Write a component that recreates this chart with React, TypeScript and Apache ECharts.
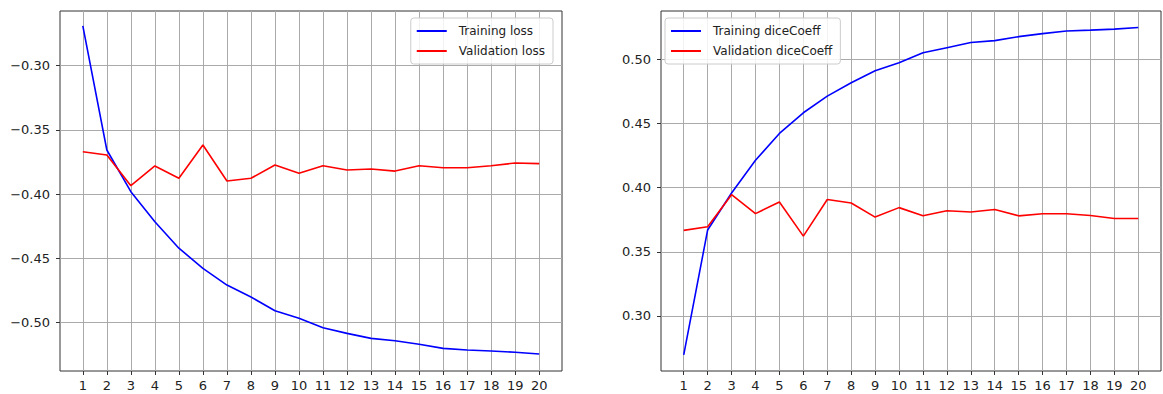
import React, { useEffect, useRef } from "react";
import * as echarts from "echarts";

const epochs = [1, 2, 3, 4, 5, 6, 7, 8, 9, 10, 11, 12, 13, 14, 15, 16, 17, 18, 19, 20];
const trainLoss = [-0.269, -0.3656, -0.398, -0.4214, -0.442, -0.4577, -0.4707, -0.48, -0.4907, -0.4966, -0.5039, -0.5083, -0.5122, -0.514, -0.5168, -0.52, -0.5213, -0.522, -0.523, -0.5244];
const valLoss = [-0.3669, -0.3695, -0.3934, -0.378, -0.3876, -0.3617, -0.3897, -0.3876, -0.3773, -0.3837, -0.3778, -0.3812, -0.3804, -0.382, -0.3778, -0.3794, -0.3794, -0.3778, -0.3757, -0.3762];
const trainDice = [0.2696, 0.367, 0.3958, 0.4213, 0.4422, 0.4583, 0.4713, 0.4817, 0.4911, 0.4973, 0.505, 0.509, 0.513, 0.5145, 0.5176, 0.52, 0.522, 0.5227, 0.5235, 0.5248];
const valDice = [0.3667, 0.3695, 0.3945, 0.3797, 0.3888, 0.3622, 0.3907, 0.388, 0.377, 0.3844, 0.378, 0.382, 0.381, 0.3829, 0.378, 0.3796, 0.3796, 0.3783, 0.3759, 0.3759];
const lossTicks = [-0.5, -0.45, -0.4, -0.35, -0.3];
const diceTicks = [0.3, 0.35, 0.4, 0.45, 0.5];
const lossNames = ["Training loss", "Validation loss"];
const diceNames = ["Training diceCoeff", "Validation diceCoeff"];

const FONT = "DejaVu Sans";

function pairs(ys: number[]) {
  return epochs.map((e, i) => [e, ys[i]]);
}

function xAxis(gridIndex: number) {
  return {
    type: "value",
    gridIndex,
    min: 0.05,
    max: 20.95,
    axisLine: { show: false },
    axisTick: { show: true, length: 4, customValues: epochs, lineStyle: { color: "#333", width: 1 } },
    axisLabel: { customValues: epochs, margin: 8, fontFamily: FONT, fontSize: 13, color: "#222" },
    splitLine: { show: true, lineStyle: { color: "#aaaaaa", width: 1 } },
  };
}

function yAxis(gridIndex: number, min: number, max: number, ticks: number[]) {
  return {
    type: "value",
    gridIndex,
    min,
    max,
    axisLine: { show: false },
    axisTick: { show: true, length: 4, customValues: ticks, lineStyle: { color: "#333", width: 1 } },
    axisLabel: {
      customValues: ticks,
      margin: 10,
      fontFamily: FONT,
      fontSize: 13,
      color: "#222",
      formatter: (v: number) => v.toFixed(2).replace("-", "\u2212"),
    },
    splitLine: { show: true, lineStyle: { color: "#aaaaaa", width: 1 } },
  };
}

function legend(names: string[], pos: Record<string, number>) {
  return {
    ...pos,
    orient: "vertical",
    data: names,
    icon: "rect",
    itemWidth: 30,
    itemHeight: 2,
    itemGap: 6,
    backgroundColor: "rgba(255,255,255,0.85)",
    borderColor: "#cccccc",
    borderWidth: 1,
    borderRadius: 3,
    padding: [6, 8, 6, 6],
    textStyle: { fontFamily: FONT, fontSize: 12, color: "#222", lineHeight: 14, padding: [0, 0, 0, 7] },
  };
}

function line(name: string, ys: number[], color: string, idx: number) {
  return {
    type: "line",
    name,
    data: pairs(ys),
    xAxisIndex: idx,
    yAxisIndex: idx,
    showSymbol: false,
    symbol: "none",
    lineStyle: { color, width: 1.6 },
    itemStyle: { color },
  };
}

export default function App() {
  const ref = useRef<HTMLDivElement>(null);
  useEffect(() => {
    if (!ref.current) return;
    const chart = echarts.init(ref.current, undefined, { renderer: "svg" });
    chart.setOption({
      animation: false,
      backgroundColor: "#ffffff",
      grid: [
        { left: 60, right: 601, top: 11, bottom: 23, show: true, borderColor: "#333", borderWidth: 1, backgroundColor: "transparent" },
        { left: 661, right: 2, top: 11, bottom: 23, show: true, borderColor: "#333", borderWidth: 1, backgroundColor: "transparent" },
      ],
      xAxis: [xAxis(0), xAxis(1)],
      yAxis: [yAxis(0, -0.5376, -0.2574, lossTicks), yAxis(1, 0.2571, 0.5376, diceTicks)],
      legend: [legend(lossNames, { right: 610, top: 18 }), legend(diceNames, { left: 665, top: 18 })],
      series: [
        line(lossNames[0], trainLoss, "#0000ff", 0),
        line(lossNames[1], valLoss, "#ff0000", 0),
        line(diceNames[0], trainDice, "#0000ff", 1),
        line(diceNames[1], valDice, "#ff0000", 1),
      ],
    });
    return () => chart.dispose();
  }, []);
  return (
    <div
      ref={ref}
      style={{ position: "fixed", left: 0, top: 0, width: 1163, height: 394, background: "#fff" }}
    />
  );
}
